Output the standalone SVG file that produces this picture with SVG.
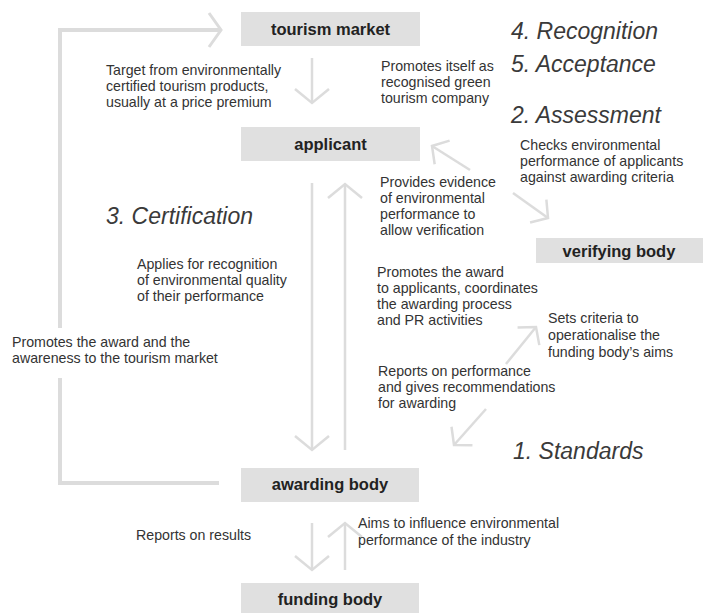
<svg xmlns="http://www.w3.org/2000/svg" width="705" height="613" viewBox="0 0 705 613">
<style>
  .box { fill: #e0e0e0; }
  .name { font-family: "Liberation Sans", Arial, sans-serif; font-weight: bold; font-size: 16.5px; fill: #222; text-anchor: middle; }
  .lbl { font-family: "Liberation Sans", Arial, sans-serif; font-size: 14.2px; fill: #333; }
  .stage { font-family: "Liberation Sans", Arial, sans-serif; font-style: italic; font-size: 23px; fill: #3a3a3a; }
  .frame { fill: none; stroke: #dcdcdc; stroke-width: 4; }
  .conn { fill: none; stroke: #dcdcdc; stroke-width: 2.5; }
</style>
<defs>
  <marker id="big" viewBox="-20 -20 40 40" refX="0" refY="0" markerWidth="40" markerHeight="40" markerUnits="userSpaceOnUse" orient="auto">
    <path d="M-14,-17 L0,0 L-14,17" fill="none" stroke="#dcdcdc" stroke-width="2.5"/>
  </marker>
  <marker id="bigw" viewBox="-20 -20 40 40" refX="0" refY="0" markerWidth="40" markerHeight="40" markerUnits="userSpaceOnUse" orient="auto">
    <path d="M-12,-17 L0,0 L-12,17" fill="none" stroke="#dcdcdc" stroke-width="3"/>
  </marker>
  <marker id="small" viewBox="-20 -20 40 40" refX="0" refY="0" markerWidth="40" markerHeight="40" markerUnits="userSpaceOnUse" orient="auto">
    <path d="M-12,-14 L0,0 L-12,14" fill="none" stroke="#dcdcdc" stroke-width="2.5"/>
  </marker>
</defs>

<g id="connectors">
  <path class="frame" d="M219,483 H60 V378"/>
  <path class="frame" d="M60,328 V30 H221" marker-end="url(#bigw)"/>
  <path class="conn" d="M312,58 V103" marker-end="url(#big)"/>
  <path class="conn" d="M312,183 V450" marker-end="url(#big)"/>
  <path class="conn" d="M345,450 V184" marker-end="url(#big)"/>
  <path class="conn" d="M312,523 V570" marker-end="url(#big)"/>
  <path class="conn" d="M345,570 V523" marker-end="url(#big)"/>
  <path class="conn" d="M470,170 L432,146" marker-end="url(#small)"/>
  <path class="conn" d="M513,193 L548,218" marker-end="url(#small)"/>
  <path class="conn" d="M506,364 L536,327" marker-end="url(#small)"/>
  <path class="conn" d="M486,409 L454,445" marker-end="url(#small)"/>
</g>

<g id="tourism-market">
  <rect class="box" x="241" y="12" width="179" height="34"/>
  <text class="name" x="330.5" y="35">tourism market</text>
</g>
<g id="applicant">
  <rect class="box" x="241" y="127" width="179" height="34"/>
  <text class="name" x="330.5" y="150">applicant</text>
</g>
<g id="verifying-body">
  <rect class="box" x="536" y="238" width="167" height="25"/>
  <text class="name" x="619" y="257">verifying body</text>
</g>
<g id="awarding-body">
  <rect class="box" x="241" y="468" width="178" height="34"/>
  <text class="name" x="330" y="490">awarding body</text>
</g>
<g id="funding-body">
  <rect class="box" x="241" y="583" width="178" height="30"/>
  <text class="name" x="330" y="605">funding body</text>
</g>

<g id="stages">
  <text class="stage" x="511" y="39">4. Recognition</text>
  <text class="stage" x="511" y="72">5. Acceptance</text>
  <text class="stage" x="511" y="123">2. Assessment</text>
  <text class="stage" x="106" y="224">3. Certification</text>
  <text class="stage" x="513" y="459">1. Standards</text>
</g>

<g id="labels">
  <text class="lbl" x="106" y="75">Target from environmentally</text>
  <text class="lbl" x="106" y="91">certified tourism products,</text>
  <text class="lbl" x="106" y="107">usually at a price premium</text>

  <text class="lbl" x="381" y="71">Promotes itself as</text>
  <text class="lbl" x="381" y="87">recognised green</text>
  <text class="lbl" x="381" y="103">tourism company</text>

  <text class="lbl" x="520" y="150">Checks environmental</text>
  <text class="lbl" x="520" y="166">performance of applicants</text>
  <text class="lbl" x="520" y="182">against awarding criteria</text>

  <text class="lbl" x="380" y="187">Provides evidence</text>
  <text class="lbl" x="380" y="203">of environmental</text>
  <text class="lbl" x="380" y="219">performance to</text>
  <text class="lbl" x="380" y="235">allow verification</text>

  <text class="lbl" x="377" y="277">Promotes the award</text>
  <text class="lbl" x="377" y="293">to applicants, coordinates</text>
  <text class="lbl" x="377" y="309">the awarding process</text>
  <text class="lbl" x="377" y="325">and PR activities</text>

  <text class="lbl" x="548" y="323">Sets criteria to</text>
  <text class="lbl" x="548" y="340">operationalise the</text>
  <text class="lbl" x="548" y="357">funding body’s aims</text>

  <text class="lbl" x="378" y="376">Reports on performance</text>
  <text class="lbl" x="378" y="392">and gives recommendations</text>
  <text class="lbl" x="378" y="408">for awarding</text>

  <text class="lbl" x="137" y="269">Applies for recognition</text>
  <text class="lbl" x="137" y="285">of environmental quality</text>
  <text class="lbl" x="137" y="301">of their performance</text>

  <text class="lbl" x="12" y="347">Promotes the award and the</text>
  <text class="lbl" x="12" y="363">awareness to the tourism market</text>

  <text class="lbl" x="136" y="540">Reports on results</text>

  <text class="lbl" x="358" y="528">Aims to influence environmental</text>
  <text class="lbl" x="358" y="545">performance of the industry</text>
</g>
</svg>
